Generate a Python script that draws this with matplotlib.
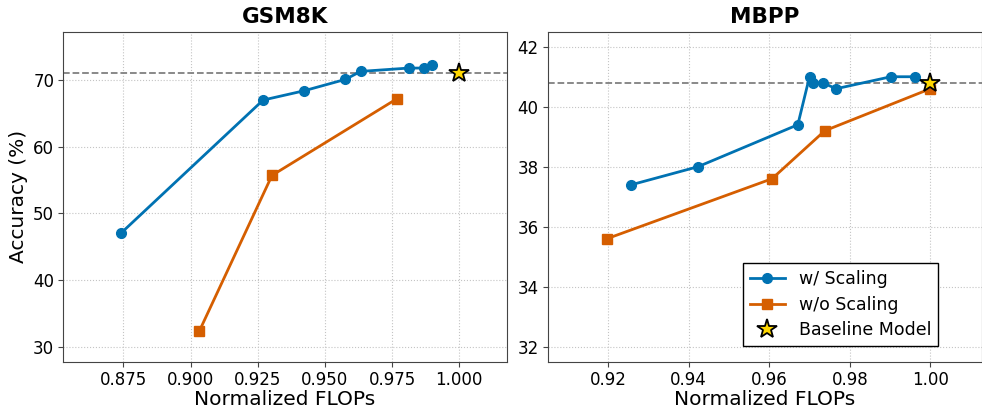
import matplotlib
matplotlib.use("Agg")
import matplotlib.pyplot as plt

# GSM8K
gsm_scaling_x = [0.874, 0.927, 0.9423, 0.9576, 0.9633, 0.9812, 0.9868, 0.9899]
gsm_scaling_y = [47.0, 67.0, 68.4, 70.1, 71.3, 71.8, 71.8, 72.3]
gsm_noscale_x = [0.9032, 0.9303, 0.9768]
gsm_noscale_y = [32.3, 55.7, 67.2]
gsm_baseline = 71.1

# MBPP
mbpp_scaling_x = [0.9258, 0.9423, 0.9671, 0.970, 0.9709, 0.9733, 0.9766, 0.9902, 0.9961]
mbpp_scaling_y = [37.4, 38.0, 39.4, 41.0, 40.8, 40.8, 40.6, 41.0, 41.0]
mbpp_noscale_x = [0.9197, 0.9607, 0.9738, 1.0]
mbpp_noscale_y = [35.6, 37.6, 39.2, 40.6]
mbpp_baseline = 40.8

blue = "#0072B2"
orange = "#D55E00"

fig = plt.figure(figsize=(9.82, 4.09), dpi=100)
ax1 = fig.add_axes([0.0644, 0.1156, 0.4517, 0.8068])
ax2 = fig.add_axes([0.5577, 0.1156, 0.4418, 0.8068])

panels = [
    (ax1, "GSM8K", gsm_scaling_x, gsm_scaling_y, gsm_noscale_x, gsm_noscale_y, gsm_baseline),
    (ax2, "MBPP", mbpp_scaling_x, mbpp_scaling_y, mbpp_noscale_x, mbpp_noscale_y, mbpp_baseline),
]

for ax, title, sx, sy, nx, ny, base in panels:
    ax.axhline(base, color="gray", linestyle="--", linewidth=1.3, zorder=1)
    ax.plot(sx, sy, color=blue, marker="o", markersize=7, linewidth=2, label="w/ Scaling", zorder=3)
    ax.plot(nx, ny, color=orange, marker="s", markersize=7, linewidth=2, label="w/o Scaling", zorder=3)
    ax.plot([1.0], [base], linestyle="none", marker="*", markersize=15, color="#FFD700",
            markeredgecolor="black", markeredgewidth=1.3, label="Baseline Model", zorder=4)
    ax.set_title(title, fontsize=15.5, fontweight="bold")
    ax.set_xlabel("Normalized FLOPs", fontsize=14.5, labelpad=1)
    ax.grid(True, linestyle=":", color="#c4c4c4", linewidth=0.8)
    ax.set_axisbelow(True)
    ax.tick_params(labelsize=12, color="#444444", pad=3)
    for s in ax.spines.values():
        s.set_color("#444444")

ax1.set_ylabel("Accuracy (%)", fontsize=14.5)
ax1.set_xlim(0.8526, 1.0177)
ax1.set_ylim(27.75, 77.25)
ax1.set_xticks([0.875, 0.900, 0.925, 0.950, 0.975, 1.000])
ax1.set_yticks([30, 40, 50, 60, 70])

ax2.set_xlim(0.905, 1.0127)
ax2.set_ylim(31.5, 42.5)
ax2.set_xticks([0.92, 0.94, 0.96, 0.98, 1.00])
ax2.set_yticks([32, 34, 36, 38, 40, 42])

leg = ax2.legend(loc="lower right", fontsize=12.5, fancybox=False, edgecolor="black",
                 framealpha=1, bbox_to_anchor=(0.92, 0.02), borderpad=0.4,
                 labelspacing=0.45)
leg.get_frame().set_linewidth(1.0)

fig.savefig("out.png", dpi=100)
